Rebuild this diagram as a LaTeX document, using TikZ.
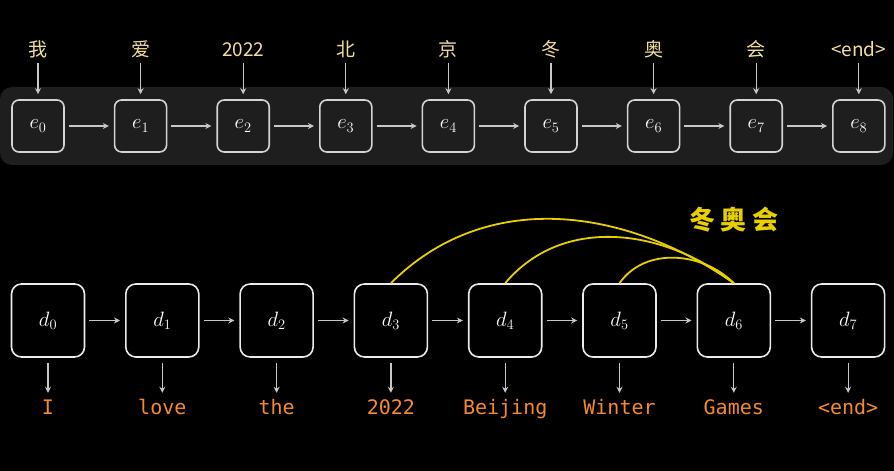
\documentclass[tikz,border=0pt]{standalone}
\usepackage{fontspec}
\newfontfamily\cjk{Noto Sans CJK SC}
\newfontfamily\codefont{DejaVu Sans Mono}
\usetikzlibrary{arrows.meta}

\definecolor{panelgray}{HTML}{1E1E1E}
\definecolor{boxgray}{HTML}{D4D4D4}
\definecolor{arrowgray}{HTML}{C8C8C8}
\definecolor{srccolor}{HTML}{F2DFA0}
\definecolor{tgtcolor}{HTML}{F58A2E}
\definecolor{attncolor}{HTML}{E8CF00}

\tikzset{
  ebox/.style={draw=boxgray, fill=panelgray, text=white, line width=1.6pt,
    rounded corners=7pt, minimum size=52pt, inner sep=0pt,
    font=\fontsize{20}{24}\selectfont},
  dbox/.style={draw=white!92!black, fill=black, text=white, line width=1.6pt,
    rounded corners=10pt, minimum size=73pt, inner sep=0pt,
    font=\fontsize{20}{24}\selectfont},
  srcword/.style={text=srccolor, anchor=base, inner sep=3pt,
    text height=14pt, text depth=3pt, font=\cjk\fontsize{19}{22}\selectfont},
  tgtword/.style={text=tgtcolor, anchor=base, inner sep=3pt,
    text height=15pt, text depth=4pt, font=\codefont\fontsize{20}{24}\selectfont},
  flow/.style={draw=arrowgray, line width=1.2pt, -{Stealth[length=6pt,width=6pt]}},
  attn/.style={draw=attncolor, line width=1.8pt}
}

\begin{document}
\begin{tikzpicture}[x=1pt, y=1pt]
  \useasboundingbox (0,0) rectangle (894,471);
  \fill[black] (0,0) rectangle (894,471);
  \fill[panelgray, rounded corners=12pt] (0,306) rectangle (893,384);

  % encoder
  \foreach \i/\w in {0/我, 1/爱, 2/2022, 3/北, 4/京, 5/冬, 6/奥, 7/会, 8/<end>}{
      \pgfmathsetmacro{\x}{38+102.6*\i}
      \node[ebox] (e\i) at (\x, 345) {$e_{\i}$};
      \node[srcword] (s\i) at (\x, 414) {\w};
      \draw[flow, shorten >=5pt] (s\i) -- (e\i);
  }
  \foreach \u/\v in {0/1, 1/2, 2/3, 3/4, 4/5, 5/6, 6/7, 7/8}{
      \draw[flow, shorten <=4pt, shorten >=5pt] (e\u) -- (e\v);
  }

  % decoder
  \foreach \i/\w in {0/I, 1/love, 2/the, 3/2022, 4/Beijing, 5/Winter, 6/Games, 7/<end>}{
      \pgfmathsetmacro{\x}{48+114.3*\i}
      \node[dbox] (d\i) at (\x, 150.5) {$d_{\i}$};
      \node[tgtword] (t\i) at (\x, 56) {\w};
      \draw[flow, shorten <=5pt, shorten >=4pt] (d\i) -- (t\i);
  }
  \foreach \u/\v in {0/1, 1/2, 2/3, 3/4, 4/5, 5/6, 6/7}{
      \draw[flow, shorten <=4pt, shorten >=5pt] (d\u) -- (d\v);
  }

  % attention arcs
  \foreach \u/\o/\n in {3/45/145, 4/50/142, 5/55/135}{
      \draw[attn] (d\u.north) to[out=\o, in=\n] (d6.north);
  }
  \node[text=attncolor, font=\cjk\bfseries\fontsize{26}{30}\selectfont] (tag) at (734, 251)
      {冬\hspace{6pt}奥\hspace{6pt}会};
\end{tikzpicture}
\end{document}
